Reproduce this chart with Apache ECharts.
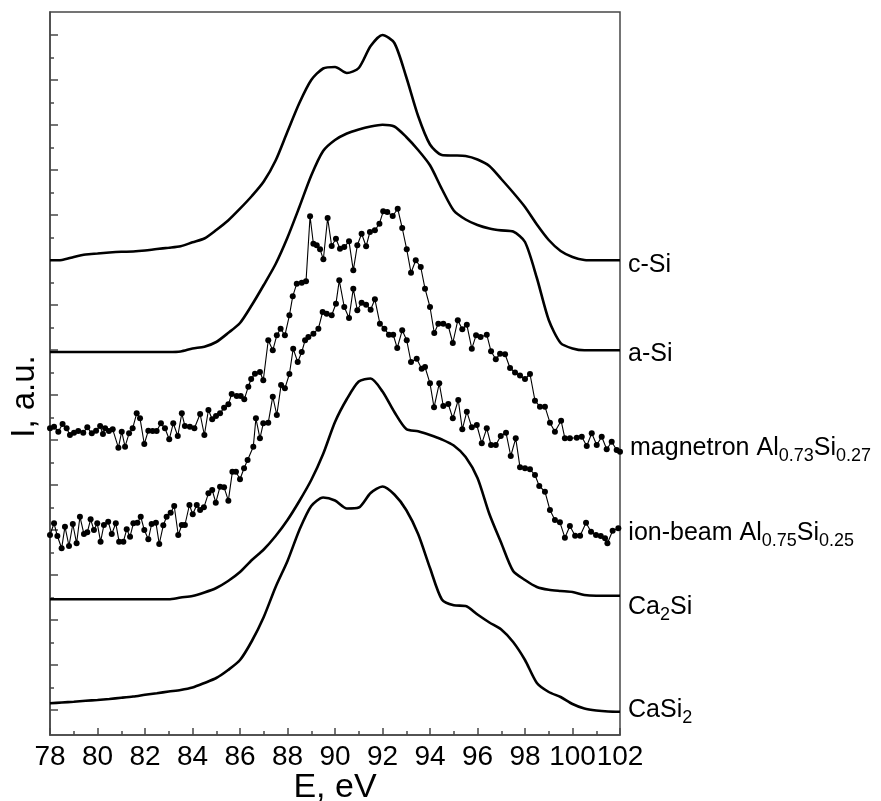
<!DOCTYPE html>
<html>
<head>
<meta charset="utf-8">
<script src="https://cdn.jsdelivr.net/npm/echarts@6/dist/echarts.min.js"></script>
<style>html,body{margin:0;padding:0;background:#fff}#c{width:881px;height:801px}</style>
</head>
<body>
<div id="c"></div>
<script>
// Energy grid (eV) for the smooth spectra
const E = [78,78.5,79,79.5,80,80.5,81,81.5,82,82.5,83,83.5,84,84.5,85,85.5,86,86.5,87,87.5,88,88.5,89,89.5,90,90.5,91,91.5,92,92.5,93,93.5,94,94.5,95,95.5,96,96.5,97,97.5,98,98.5,99,99.5,100,100.5,101,101.5,102];
// Intensities (a.u., offset stacked)
const cSi = [474.7,475,478,480.5,481.5,482.5,483.2,483.5,484.5,486,487.2,488.7,492.7,496.5,505,514.5,526.3,539,553.5,574.5,603.5,632,655,666.5,668,662,667,689,700,692,658,619,590.5,580,579.5,579,575.5,569,556,542.5,528,510.5,495,484,478,475,474.7,474.7,474.7];
const aSi = [383,383,383,383,383,383,383,383,383,383,383,383.5,386.5,388.3,393,402,412,430,450,471,497.5,528,559.5,584,595,601.5,605.5,608.5,610.3,608.5,598,585,569.7,546,524.5,515.5,510,506.5,504.6,503.5,493,457,415,392,386.5,384.7,384.7,384.7,384.7];
const ca2Si = [135.7,135.7,135.7,135.7,135.7,135.7,135.7,135.7,135.7,135.7,135.7,137.5,139,142.5,147,154,163,175,185.5,199,215,234,255,281,313,336,353.5,356.5,343.5,323,306,303.7,300,295.5,289.5,278,257,221,192,164,155,148,145.2,144,143,140,139.3,139.3,139.3];
const caSi2 = [31.7,32.5,33.2,34.2,35,36,37.2,38.5,40.2,41.8,43.5,45,47.5,52,57,65,75,94,118,148,174,205,229,237.5,234.5,226.5,227.5,242,248.5,240.5,225,201,167,135.5,129.7,129,120.5,112.5,105.5,93,75,52,43,38,31,26.5,24.5,23.5,23.3];

// magnetron Al0.73Si0.27 (measured points)
const magE = [78.00,78.17,78.35,78.53,78.70,78.84,79.01,79.19,79.40,79.57,79.76,79.94,80.11,80.23,80.32,80.48,80.64,80.88,81.02,81.16,81.33,81.48,81.65,81.79,81.97,82.14,82.32,82.49,82.67,82.84,83.02,83.19,83.38,83.55,83.68,83.89,84.08,84.32,84.50,84.67,84.83,84.99,85.16,85.33,85.51,85.65,85.86,86.03,86.18,86.35,86.47,86.63,86.84,86.98,87.19,87.38,87.55,87.71,87.89,88.08,88.22,88.39,88.60,88.78,88.95,89.09,89.23,89.37,89.51,89.69,89.86,90.04,90.21,90.39,90.59,90.77,90.94,91.12,91.31,91.47,91.68,91.87,92.03,92.20,92.43,92.64,92.83,93.02,93.20,93.40,93.61,93.79,94.00,94.18,94.35,94.56,94.77,94.96,95.17,95.36,95.55,95.76,95.94,96.13,96.39,96.57,96.77,96.95,97.16,97.37,97.58,97.79,98.00,98.21,98.42,98.63,98.84,99.05,99.26,99.52,99.68,99.89,100.18,100.39,100.60,100.81,101.02,101.23,101.44,101.65,101.86,102.00];
const magI = [306.7,308.3,303.3,311,306.7,300,302.3,304,302.3,307.7,301.7,304.3,309,301,306.7,304,305.7,287.3,303.3,288.3,301.7,306.7,321.7,316.7,291,304.3,304,304,311.7,306.7,295.7,311.7,299,321.7,309,308.3,306.7,321,300,325,315.7,319,321.7,327.3,330.7,341,339,339,335.7,348.3,356,361.3,363,354.7,394.7,384.7,399.7,406.3,399.7,419.7,438.7,451.3,452.3,453.7,518.7,491.3,489.7,485.7,475.7,517,489,496.3,486.3,488,493.7,464.7,489.7,501.3,488.7,503,504.7,511.3,523.7,523,519,526.3,507,485.7,462.3,474.7,468,446.3,428,402,411.3,411.3,409,392,414.7,405.7,410.3,386.3,399.7,398,400.3,383.7,375.7,381.3,380.7,367,362.5,359.5,356,361,334.3,328.3,328.3,312.3,303.3,314.3,296.7,296.7,297.3,298.3,289,301.7,290,298.3,285.7,293.3,285,283.3];

// ion-beam Al0.75Si0.25 (measured points)
const ionE = [78.00,78.17,78.31,78.49,78.63,78.80,78.96,79.12,79.26,79.43,79.57,79.71,79.85,79.99,80.13,80.27,80.45,80.60,80.77,80.91,81.09,81.23,81.37,81.51,81.68,81.82,81.97,82.14,82.28,82.46,82.60,82.77,82.91,83.08,83.23,83.40,83.55,83.68,83.87,84.01,84.18,84.32,84.48,84.67,84.83,84.98,85.16,85.33,85.51,85.68,85.83,86.00,86.17,86.32,86.56,86.67,86.84,86.98,87.19,87.38,87.55,87.73,87.89,88.08,88.24,88.43,88.60,88.74,88.88,89.09,89.30,89.48,89.65,89.86,90.04,90.18,90.39,90.59,90.77,90.94,91.12,91.31,91.50,91.68,91.89,92.08,92.27,92.45,92.62,92.83,93.02,93.20,93.44,93.65,93.79,94.00,94.17,94.39,94.56,94.77,94.96,95.19,95.36,95.55,95.76,95.97,96.18,96.39,96.57,96.77,96.98,97.20,97.40,97.61,97.79,98.00,98.21,98.42,98.60,98.84,99.05,99.26,99.47,99.68,99.89,100.11,100.32,100.57,100.78,100.99,101.19,101.37,101.47,101.69,101.93];
const ionI = [200,211.7,199,186.7,208.3,189,211,191.7,218.3,201,202.7,215.7,205,211.7,193.3,210,213.3,201,211.7,193.3,193.3,205.7,198.3,211.7,212.3,218.3,205,195.7,211,212.3,191,209.7,218.3,222.3,229,200,210,210,230,220.7,230,225,227.7,241.7,245,232.3,248.3,247.7,234.3,263.3,263.3,255.7,266.7,275,288.3,316.7,296.7,311.7,312.3,338.3,320,350,346.7,361,386.3,373,383,394.7,398,401.3,406.3,423,421.3,419.7,431.3,454.7,428,417,446.3,424.7,432.3,430.3,425.3,435.7,411.3,406.3,400.3,400.3,387,404.7,394.7,373,376.3,366.3,368,351.7,327.7,351.7,329,331,316.7,335,305.7,323.3,307.7,310,291.7,306.7,290,290,299,302.3,279,296.7,267.7,266.7,265.7,260,249,243.3,225,215,212.7,197.3,209,199.3,199.3,212.3,203.3,200,199,196.7,191.7,204.3,206.7];

// Axis ticks
const xTickLabels = [78,80,82,84,86,88,90,92,94,96,98,100,102];
const yMajorTicks = [25,70,115,160,205,250,295,340,385,430,475,520,565,610,655,700];
const yMinorTicks = [47.5,92.5,137.5,182.5,227.5,272.5,317.5,362.5,407.5,452.5,497.5,542.5,587.5,632.5,677.5];

const FONT = "'Liberation Sans', Arial, sans-serif";
const AX = '#474747';
const rich = {
  n: {fontSize: 25, lineHeight: 34, fontFamily: FONT, color: '#000', verticalAlign: 'middle'},
  s: {fontSize: 18, fontFamily: FONT, color: '#000', verticalAlign: 'bottom'}
};
function pairs(xs, ys) { return xs.map((x, i) => [x, ys[i]]); }
function endLab(text, dx, dy) {
  return {show: true, formatter: text, offset: [dx, dy], distance: 5, rich: rich,
          fontFamily: FONT, fontSize: 25, color: '#000', align: 'left', verticalAlign: 'middle'};
}
function solid(name, ys, text, dy) {
  return {type: 'line', name: name, data: pairs(E, ys), smooth: 0.25, symbol: 'none',
          lineStyle: {color: '#000', width: 2.6}, endLabel: endLab(text, 3, dy), silent: true};
}
function noisy(name, xs, ys, text, dx, dy) {
  return {type: 'line', name: name, data: pairs(xs, ys), symbol: 'circle', symbolSize: 6, showSymbol: true,
          itemStyle: {color: '#000'}, lineStyle: {color: '#000', width: 1.1}, endLabel: endLab(text, dx, dy), silent: true};
}

const chart = echarts.init(document.getElementById('c'), null, {renderer: 'canvas'});
chart.setOption({
  animation: false,
  backgroundColor: '#fff',
  grid: {left: 50, right: 261, top: 12, bottom: 66, show: true, borderColor: AX, borderWidth: 1.5,
         backgroundColor: 'transparent', outerBoundsMode: 'none'},
  xAxis: {
    type: 'value', min: 78, max: 102, interval: 2,
    axisLine: {show: true, onZero: false, lineStyle: {color: AX, width: 1.5}},
    axisTick: {show: true, inside: true, length: 7, lineStyle: {color: AX, width: 1.5}},
    minorTick: {show: true, splitNumber: 2, length: 4, lineStyle: {color: AX, width: 1.5}},
    splitLine: {show: false}, minorSplitLine: {show: false},
    axisLabel: {fontSize: 28, color: '#000', fontFamily: FONT, margin: 8, showMinLabel: true, showMaxLabel: true,
                formatter: v => (xTickLabels.indexOf(v) >= 0 ? String(v) : '')},
    name: 'E, eV', nameLocation: 'middle', nameGap: 36, nameMoveOverlap: false,
    nameTextStyle: {fontSize: 34, color: '#000', fontFamily: FONT}
  },
  yAxis: [{
    type: 'value', min: 0, max: 723,
    axisLine: {show: true, onZero: false, lineStyle: {color: AX, width: 1.5}},
    axisTick: {show: true, inside: true, length: 8, customValues: yMajorTicks, lineStyle: {color: AX, width: 1.5}},
    axisLabel: {show: false}, splitLine: {show: false},
    name: 'I, a.u.', nameLocation: 'middle', nameGap: 9, nameRotate: 90, nameMoveOverlap: false,
    nameTextStyle: {fontSize: 33, color: '#000', fontFamily: FONT, padding: [0, 46, 0, 0]}
  }, {
    type: 'value', min: 0, max: 723, position: 'left',
    axisLine: {show: false},
    axisTick: {show: true, inside: true, length: 4, customValues: yMinorTicks, lineStyle: {color: AX, width: 1.5}},
    axisLabel: {show: false}, splitLine: {show: false}
  }],
  series: [
    solid('c-Si', cSi, '{n|c-Si}', 5),
    solid('a-Si', aSi, '{n|a-Si}', 4),
    noisy('magnetron', magE, magI, '{n|magnetron Al}{s|0.73}{n|Si}{s|0.27}', 5, -4),
    noisy('ion-beam', ionE, ionI, '{n|ion-beam Al}{s|0.75}{n|Si}{s|0.25}', 5, 5),
    solid('Ca2Si', ca2Si, '{n|Ca}{s|2}{n|Si}', 11),
    solid('CaSi2', caSi2, '{n|CaSi}{s|2}', -2)
  ]
});
</script>
</body>
</html>
